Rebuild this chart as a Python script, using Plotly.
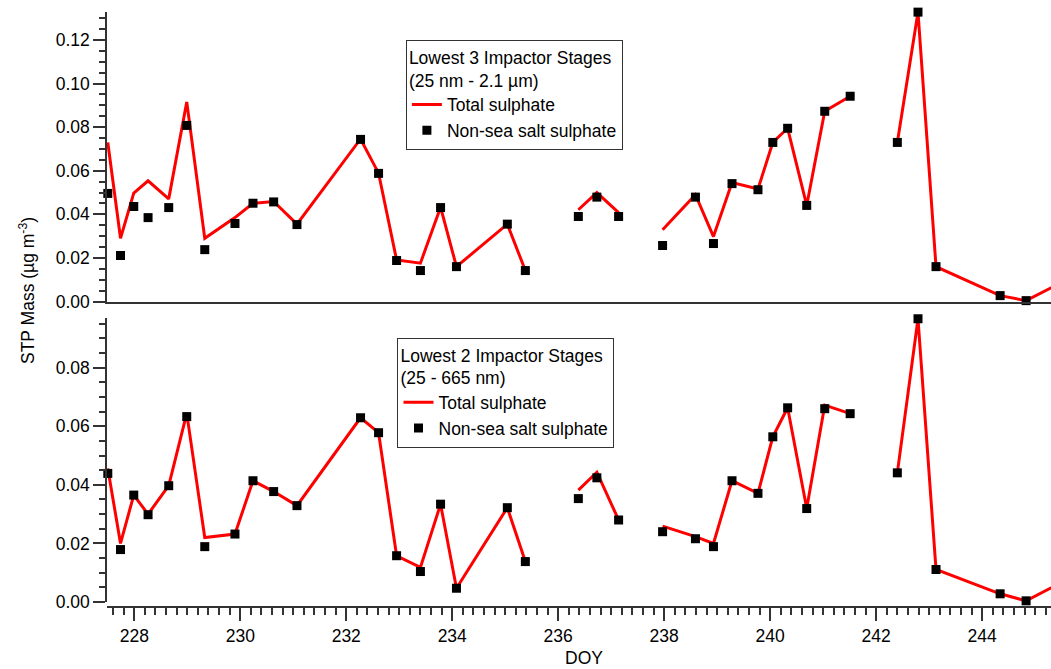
import plotly.graph_objects as go

# Day of year for each sample (None = gap between sampling periods)
days = [227.50, 227.74, 227.99, 228.26, 228.65, 228.99, 229.33, 229.90, 230.24, 230.63,
        231.07, 232.27, 232.61, 232.95, 233.40, 233.78, 234.08, 235.04, 235.38, None,
        236.38, 236.73, 237.14, None,
        237.97, 238.59, 238.93, 239.28, 239.77, 240.05, 240.33, 240.69, 241.03, 241.51, None,
        242.40, 242.79, 243.13, 244.34, 244.83, 245.80]

# Lowest 3 impactor stages (25 nm - 2.1 um)
top_total = [0.0730, 0.0290, 0.0497, 0.0554, 0.0471, 0.0916, 0.0290, 0.0385, 0.0451, 0.0459,
             0.0355, 0.0746, 0.0589, 0.0191, 0.0176, 0.0433, 0.0160, 0.0355, 0.0142, None,
             0.0421, 0.0500, 0.0408, None,
             0.0329, 0.0490, 0.0298, 0.0546, 0.0516, 0.0730, 0.0795, 0.0441, 0.0873, 0.0942, None,
             0.0730, 0.1328, 0.0160, 0.0027, 0.0004, 0.0125]
top_nss = [0.0496, 0.0211, 0.0436, 0.0385, 0.0431, 0.0808, 0.0238, 0.0358, 0.0451, 0.0457,
           0.0353, 0.0744, 0.0588, 0.0188, 0.0142, 0.0431, 0.0160, 0.0355, 0.0142, None,
           0.0390, 0.0479, 0.0390, None,
           0.0257, 0.0479, 0.0266, 0.0541, 0.0513, 0.0730, 0.0795, 0.0441, 0.0873, 0.0942, None,
           0.0730, 0.1328, 0.0160, 0.0027, 0.0004, 0.0125]

# Lowest 2 impactor stages (25 - 665 nm)
bot_total = [0.0456, 0.0200, 0.0365, 0.0300, 0.0397, 0.0644, 0.0220, 0.0232, 0.0414, 0.0377,
             0.0329, 0.0629, 0.0578, 0.0158, 0.0118, 0.0334, 0.0047, 0.0322, 0.0138, None,
             0.0382, 0.0443, 0.0280, None,
             0.0259, 0.0223, 0.0200, 0.0414, 0.0371, 0.0564, 0.0663, 0.0319, 0.0672, 0.0643, None,
             0.0441, 0.0967, 0.0111, 0.0028, 0.0004, 0.0095]
bot_nss = [0.0439, 0.0179, 0.0365, 0.0298, 0.0397, 0.0633, 0.0189, 0.0232, 0.0414, 0.0377,
           0.0329, 0.0629, 0.0578, 0.0158, 0.0104, 0.0334, 0.0047, 0.0322, 0.0138, None,
           0.0353, 0.0424, 0.0280, None,
           0.0240, 0.0216, 0.0189, 0.0414, 0.0371, 0.0564, 0.0663, 0.0319, 0.0660, 0.0643, None,
           0.0441, 0.0967, 0.0111, 0.0028, 0.0004, 0.0095]

top_title = "Lowest 3 Impactor Stages<br>(25 nm - 2.1 µm)"
bot_title = "Lowest 2 Impactor Stages<br>(25 - 665 nm)"
name_total = "Total sulphate"
name_nss = "Non-sea salt sulphate"

FONT = "Liberation Sans, Arial, sans-serif"
FS = 17.5
AX = "#333333"
W, H = 1051, 669
ML, MT, MB = 107, 11, 62
plot_h = H - MT - MB
plot_w = W - ML

def py(p):  # pixel y -> paper y
    return (H - MB - p) / plot_h

def px(p):
    return (p - ML) / plot_w

# axis scales (pixels per unit) and baselines
TOP_BASE, TOP_SCALE, TOP_MAX = 301.5, 2179.0, 0.1329
BOT_BASE, BOT_SCALE, BOT_MAX = 602.0, 2929.0, 0.0968

fig = go.Figure()

line_style = dict(color="#ff0000", width=3)
mk_style = dict(symbol="square", size=9, color="black")

fig.add_trace(go.Scatter(x=days, y=top_total, mode="lines", line=line_style, name=name_total,
                         xaxis="x2", yaxis="y2", legend="legend", cliponaxis=False, connectgaps=False))
fig.add_trace(go.Scatter(x=days, y=top_nss, mode="markers", marker=mk_style, name=name_nss,
                         xaxis="x2", yaxis="y2", legend="legend", cliponaxis=False))
fig.add_trace(go.Scatter(x=days, y=bot_total, mode="lines", line=line_style, name=name_total,
                         xaxis="x", yaxis="y", legend="legend2", cliponaxis=False, connectgaps=False))
fig.add_trace(go.Scatter(x=days, y=bot_nss, mode="markers", marker=mk_style, name=name_nss,
                         xaxis="x", yaxis="y", legend="legend2", cliponaxis=False))

xr = [227.485, 245.30]
tfont = dict(family=FONT, size=FS, color="black")
yax_common = dict(showline=True, linecolor=AX, linewidth=1.5, ticks="outside", ticklen=12,
                  tickwidth=1.5, tickcolor=AX, dtick=0.02, tick0=0, tickformat=".2f",
                  showgrid=False, zeroline=False,
                  minor=dict(dtick=0.005, tick0=0, ticks="outside", ticklen=6, tickwidth=1.5,
                             tickcolor=AX, showgrid=False),
                  tickfont=tfont)

legend_common = dict(bgcolor="white", bordercolor=AX, borderwidth=1.2,
                     font=tfont, xanchor="left", yanchor="top", tracegroupgap=0,
                     itemwidth=30)

fig.update_layout(
    width=W, height=H,
    margin=dict(l=ML, r=0, t=MT, b=MB),
    plot_bgcolor="white", paper_bgcolor="white",
    font=tfont,
    xaxis=dict(range=xr, domain=[0, 1], anchor="free", position=0,
               showline=True, linecolor=AX, linewidth=1.5,
               ticks="outside", ticklen=13, tickwidth=1.5, tickcolor=AX,
               dtick=2, tick0=228, showgrid=False, zeroline=False,
               minor=dict(dtick=0.2, tick0=228, ticks="outside", ticklen=7, tickwidth=1.5,
                          tickcolor=AX, showgrid=False),
               tickfont=tfont),
    xaxis2=dict(range=xr, domain=[0, 1], anchor="y2", matches="x",
                showline=True, linecolor=AX, linewidth=1.5, ticks="",
                showticklabels=False, showgrid=False, zeroline=False),
    yaxis=dict(range=[0, BOT_MAX], domain=[py(BOT_BASE), py(BOT_BASE - BOT_MAX * BOT_SCALE)],
               anchor="x", **yax_common),
    yaxis2=dict(range=[0, TOP_MAX], domain=[py(TOP_BASE), py(TOP_BASE - TOP_MAX * TOP_SCALE)],
                anchor="x2", **yax_common),
    legend=dict(x=px(405.7), y=py(40), title=dict(text=top_title, side="top", font=tfont),
                **legend_common),
    legend2=dict(x=px(397.3), y=py(337.7), title=dict(text=bot_title, side="top", font=tfont),
                 **legend_common),
    annotations=[
        dict(text="STP Mass (µg m<sup>-3</sup>)", textangle=-90, xref="paper", yref="paper",
             x=px(27), y=py(291), xanchor="center", yanchor="middle", showarrow=False,
             font=tfont),
        dict(text="DOY", xref="paper", yref="paper", x=px(584), y=py(658),
             xanchor="center", yanchor="middle", showarrow=False, font=tfont),
    ],
)

fig.write_html("out.html", config={"displayModeBar": False},
               post_script="document.body.style.margin='0';document.body.style.overflow='hidden';")
